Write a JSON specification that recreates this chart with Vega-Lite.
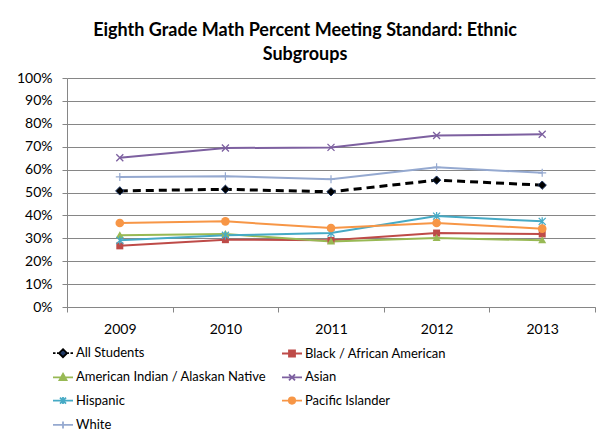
{
  "$schema": "https://vega.github.io/schema/vega-lite/v6.json",
  "width": 528,
  "height": 229,
  "autosize": {"type": "none"},
  "padding": {"left": 67, "top": 78, "right": 3, "bottom": 133},
  "background": "white",
  "title": {
    "text": ["Eighth Grade Math Percent Meeting Standard: Ethnic", "Subgroups"],
    "font": "Lato",
    "fontSize": 18,
    "fontWeight": "bold",
    "color": "black",
    "anchor": "middle",
    "dx": -26,
    "offset": 7,
    "lineHeight": 24
  },
  "data": {
    "values": [
      {"year": "2009", "group": "All Students", "value": 0.507},
      {"year": "2010", "group": "All Students", "value": 0.514},
      {"year": "2011", "group": "All Students", "value": 0.503},
      {"year": "2012", "group": "All Students", "value": 0.554},
      {"year": "2013", "group": "All Students", "value": 0.532},
      {"year": "2009", "group": "Black / African American", "value": 0.267},
      {"year": "2010", "group": "Black / African American", "value": 0.294},
      {"year": "2011", "group": "Black / African American", "value": 0.291},
      {"year": "2012", "group": "Black / African American", "value": 0.323},
      {"year": "2013", "group": "Black / African American", "value": 0.319},
      {"year": "2009", "group": "American Indian / Alaskan Native", "value": 0.313},
      {"year": "2010", "group": "American Indian / Alaskan Native", "value": 0.319},
      {"year": "2011", "group": "American Indian / Alaskan Native", "value": 0.286},
      {"year": "2012", "group": "American Indian / Alaskan Native", "value": 0.301},
      {"year": "2013", "group": "American Indian / Alaskan Native", "value": 0.291},
      {"year": "2009", "group": "Asian", "value": 0.652},
      {"year": "2010", "group": "Asian", "value": 0.694},
      {"year": "2011", "group": "Asian", "value": 0.697},
      {"year": "2012", "group": "Asian", "value": 0.749},
      {"year": "2013", "group": "Asian", "value": 0.754},
      {"year": "2009", "group": "Hispanic", "value": 0.291},
      {"year": "2010", "group": "Hispanic", "value": 0.313},
      {"year": "2011", "group": "Hispanic", "value": 0.323},
      {"year": "2012", "group": "Hispanic", "value": 0.397},
      {"year": "2013", "group": "Hispanic", "value": 0.374},
      {"year": "2009", "group": "Pacific Islander", "value": 0.367},
      {"year": "2010", "group": "Pacific Islander", "value": 0.374},
      {"year": "2011", "group": "Pacific Islander", "value": 0.345},
      {"year": "2012", "group": "Pacific Islander", "value": 0.367},
      {"year": "2013", "group": "Pacific Islander", "value": 0.342},
      {"year": "2009", "group": "White", "value": 0.568},
      {"year": "2010", "group": "White", "value": 0.571},
      {"year": "2011", "group": "White", "value": 0.558},
      {"year": "2012", "group": "White", "value": 0.610},
      {"year": "2013", "group": "White", "value": 0.586}
    ]
  },
  "encoding": {
    "x": {
      "field": "year",
      "type": "ordinal",
      "scale": {"type": "band", "paddingInner": 0, "paddingOuter": 0},
      "axis": {
        "title": null,
        "labelAngle": 0,
        "tickBand": "extent",
        "tickSize": 5,
        "labelPadding": 10,
        "domainColor": "#868686",
        "tickColor": "#868686",
        "labelFont": "Lato",
        "labelFontSize": 14,
        "labelColor": "black",
        "grid": false
      }
    },
    "y": {
      "field": "value",
      "type": "quantitative",
      "scale": {"domain": [0, 1], "nice": false, "zero": true},
      "axis": {
        "title": null,
        "values": [0, 0.1, 0.2, 0.3, 0.4, 0.5, 0.6, 0.7, 0.8, 0.9, 1],
        "format": ".0%",
        "tickSize": 5,
        "labelPadding": 10,
        "grid": true,
        "gridColor": "#868686",
        "domainColor": "#868686",
        "tickColor": "#868686",
        "labelFont": "Lato",
        "labelFontSize": 14,
        "labelColor": "black"
      }
    }
  },
  "layer": [
    {
      "mark": {"type": "point", "filled": true, "opacity": 0, "strokeWidth": 1.8},
      "encoding": {
        "fill": {
          "field": "group", "type": "nominal",
          "scale": {
            "domain": ["All Students", "Black / African American", "American Indian / Alaskan Native", "Asian", "Hispanic", "Pacific Islander", "White"],
            "range": ["#1F3864", "#BE4B48", "#98B954", "#7D60A0", "#46AAC5", "#F79646", "#95A9D0"]
          },
          "legend": {
            "title": null,
            "orient": "none",
            "direction": "horizontal",
            "legendX": -15,
            "legendY": 264,
            "columns": 2,
            "columnPadding": 12,
            "rowPadding": 5.3,
            "padding": 0,
            "symbolSize": 400,
            "symbolStrokeWidth": 1.8,
            "symbolOpacity": 1,
            "labelOffset": 2,
            "labelFont": "Lato",
            "labelFontSize": 13,
            "labelColor": "black",
            "labelLimit": 400,
            "encode": {
              "symbols": {
                "update": {
                  "fill": {"scale": "fill", "field": "value"},
                  "fillOpacity": {"value": 1},
                  "opacity": {"value": 1}
                }
              }
            }
          }
        },
        "stroke": {
          "field": "group", "type": "nominal",
          "scale": {
            "domain": ["All Students", "Black / African American", "American Indian / Alaskan Native", "Asian", "Hispanic", "Pacific Islander", "White"],
            "range": ["#000000", "#BE4B48", "#98B954", "#7D60A0", "#46AAC5", "#F79646", "#95A9D0"]
          }
        },
        "shape": {
          "field": "group", "type": "nominal",
          "scale": {
            "domain": ["All Students", "Black / African American", "American Indian / Alaskan Native", "Asian", "Hispanic", "Pacific Islander", "White"],
            "range": [
              "M-1,0H-0.75M-0.6,0H-0.45M0.45,0H0.6M0.75,0H1M0,-0.4L0.4,0L0,0.4L-0.4,0Z",
              "M-1,0H1M-0.3,-0.3H0.3V0.3H-0.3Z",
              "M-1,0H1M0,-0.35L0.35,0.28H-0.35Z",
              "M-1,0H1M-0.3,-0.3L0.3,0.3M-0.3,0.3L0.3,-0.3",
              "M-1,0H1M-0.3,-0.3L0.3,0.3M-0.3,0.3L0.3,-0.3M0,-0.35V0.35",
              "M-1,0H1M0.32,0A0.32,0.32 0 1,1 -0.32,0A0.32,0.32 0 1,1 0.32,0Z",
              "M-1,0H1M0,-0.35V0.35"
            ]
          }
        }
      }
    },
    {
      "transform": [{"filter": "datum.group !== 'All Students'"}],
      "mark": {"type": "line", "strokeWidth": 2},
      "encoding": {
        "color": {
          "field": "group", "type": "nominal", "legend": null,
          "scale": {
            "domain": ["All Students", "Black / African American", "American Indian / Alaskan Native", "Asian", "Hispanic", "Pacific Islander", "White"],
            "range": ["#000000", "#BE4B48", "#98B954", "#7D60A0", "#46AAC5", "#F79646", "#95A9D0"]
          }
        }
      }
    },
    {
      "transform": [{"filter": "datum.group === 'All Students'"}],
      "mark": {"type": "line", "strokeWidth": 3, "strokeDash": [8, 5]},
      "encoding": {"color": {"field": "group", "type": "nominal", "legend": null}}
    },
    {
      "transform": [{"filter": "datum.group === 'All Students'"}],
      "mark": {"type": "point", "filled": true, "opacity": 1, "size": 70, "shape": "M0,-1L1,0L0,1L-1,0Z", "stroke": "#1F3864", "strokeWidth": 1},
      "encoding": {"color": {"field": "group", "type": "nominal", "legend": null}}
    },
    {
      "transform": [{"filter": "datum.group === 'Black / African American'"}],
      "mark": {"type": "point", "filled": true, "opacity": 1, "size": 49, "shape": "M-1,-1H1V1H-1Z"},
      "encoding": {"color": {"field": "group", "type": "nominal", "legend": null}}
    },
    {
      "transform": [{"filter": "datum.group === 'American Indian / Alaskan Native'"}],
      "mark": {"type": "point", "filled": true, "opacity": 1, "size": 64, "shape": "M0,-1L1,0.75H-1Z"},
      "encoding": {"color": {"field": "group", "type": "nominal", "legend": null}}
    },
    {
      "transform": [{"filter": "datum.group === 'Asian'"}],
      "mark": {"type": "point", "filled": false, "opacity": 1, "size": 49, "strokeWidth": 1.3, "shape": "M-1,-1L1,1M-1,1L1,-1"},
      "encoding": {"color": {"field": "group", "type": "nominal", "legend": null}}
    },
    {
      "transform": [{"filter": "datum.group === 'Hispanic'"}],
      "mark": {"type": "point", "filled": false, "opacity": 1, "size": 49, "strokeWidth": 1.3, "shape": "M-1,-1L1,1M-1,1L1,-1M0,-1.2V1.2"},
      "encoding": {"color": {"field": "group", "type": "nominal", "legend": null}}
    },
    {
      "transform": [{"filter": "datum.group === 'Pacific Islander'"}],
      "mark": {"type": "point", "filled": true, "opacity": 1, "size": 75, "shape": "circle"},
      "encoding": {"color": {"field": "group", "type": "nominal", "legend": null}}
    },
    {
      "transform": [{"filter": "datum.group === 'White'"}],
      "mark": {"type": "point", "filled": false, "opacity": 1, "size": 64, "strokeWidth": 1.2, "shape": "M-1,0H1M0,-1V1"},
      "encoding": {"color": {"field": "group", "type": "nominal", "legend": null}}
    }
  ],
  "config": {
    "view": {"stroke": null},
    "axis": {"labelFont": "Lato"}
  }
}
